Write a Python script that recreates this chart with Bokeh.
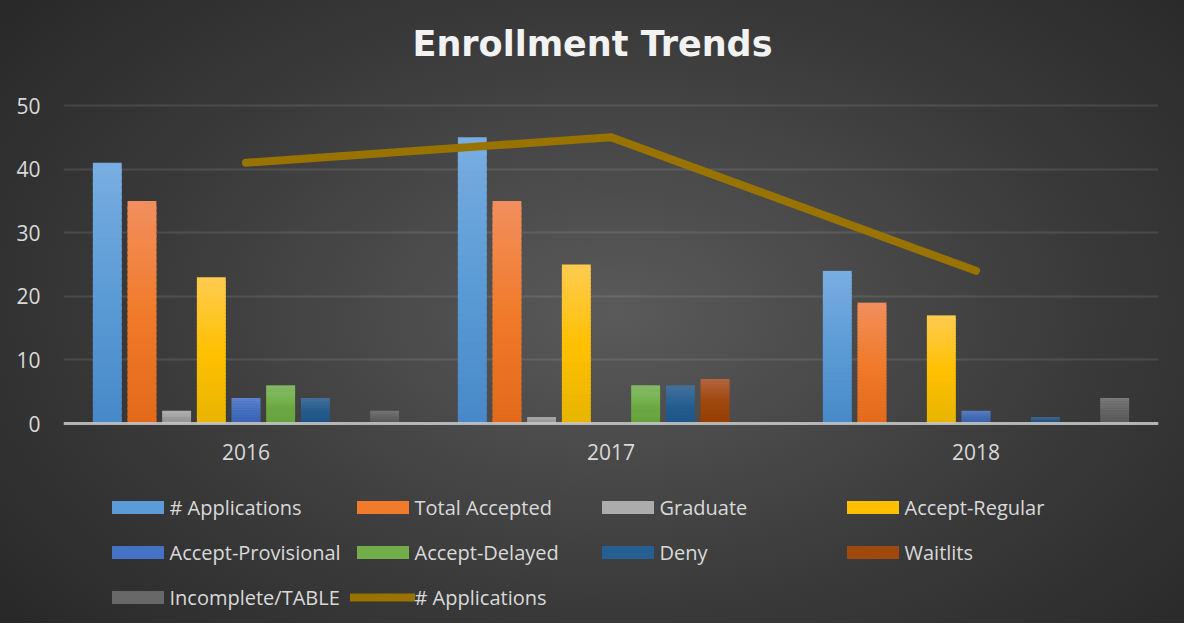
from bokeh.plotting import figure
from bokeh.models import (FactorRange, Range1d, ColumnDataSource, Legend, LegendItem,
                          FixedTicker, Span, Label)
from bokeh.core.properties import value
from bokeh.transform import dodge
from bokeh.embed import file_html
from bokeh.resources import INLINE

# ---------------- data ----------------
years = ["2016", "2017", "2018"]
series_names = ["# Applications", "Total Accepted", "Graduate", "Accept-Regular",
                "Accept-Provisional", "Accept-Delayed", "Deny", "Waitlits", "Incomplete/TABLE"]
applications = [41, 45, 24]
total_accepted = [35, 35, 19]
graduate = [2, 1, 0]
accept_regular = [23, 25, 17]
accept_provisional = [4, 0, 2]
accept_delayed = [6, 6, 0]
deny = [4, 6, 1]
waitlits = [0, 7, 0]
incomplete = [2, 0, 4]
line_label = "# Applications"
line_values = [41, 45, 24]
y_ticks = [0, 10, 20, 30, 40, 50]
title_text = "Enrollment Trends"

series_values = [applications, total_accepted, graduate, accept_regular,
                 accept_provisional, accept_delayed, deny, waitlits, incomplete]

# gradient stops (top, middle, bottom) per series
series_colors = [
    ("#78ADE1", "#5B9BD5", "#4788C8"),
    ("#F18F5C", "#F07A2A", "#E2691A"),
    ("#C0C0C0", "#ABABAB", "#9E9E9E"),
    ("#FFCB4F", "#FFC000", "#E6B400"),
    ("#5F86D3", "#4472C4", "#3A63B8"),
    ("#86BE66", "#70AD47", "#63A23A"),
    ("#44739F", "#255E91", "#1D5589"),
    ("#B4643E", "#9E480E", "#973E02"),
    ("#7C7C7C", "#676767", "#5A5A5A"),
]


def hex2rgb(h):
    h = h.lstrip("#")
    return [int(h[i:i + 2], 16) for i in (0, 2, 4)]


def mix(c1, c2, t):
    a, b = hex2rgb(c1), hex2rgb(c2)
    return "#%02x%02x%02x" % tuple(int(round(a[i] + (b[i] - a[i]) * t)) for i in range(3))


def grad(top, mid, bot, t):
    # t = 0 bottom, 1 top
    if t < 0.5:
        return mix(bot, mid, t / 0.5)
    return mix(mid, top, (t - 0.5) / 0.5)


K = 40
n = len(series_names)
step = 0.095
bar_w = 0.079

# layout: the value axis 0..50 spans 318 px; the frame fills the whole figure height
FIG_W, FIG_H = 1184, 623
LEFT, RIGHT = 63, 26
ZERO_PX = 423            # pixel row of value 0, from the top of the figure
px_per_unit = 318 / 50
y_hi = ZERO_PX / px_per_unit
y_lo = -(FIG_H - ZERO_PX) / px_per_unit

p = figure(width=FIG_W, height=FIG_H, x_range=FactorRange(factors=years, range_padding=0),
           y_range=Range1d(y_lo, y_hi), output_backend="svg", toolbar_location=None,
           min_border_left=LEFT, min_border_right=RIGHT, min_border_top=0, min_border_bottom=0)

p.styles = {"background": "radial-gradient(ellipse 72% 85% at 52% 50%, #5a5a5a 0%, #3a3a3a 55%, #252525 100%)"}
p.background_fill_alpha = 0
p.border_fill_alpha = 0
p.outline_line_color = None

items = []
for i, (name, vals, cols) in enumerate(zip(series_names, series_values, series_colors)):
    xs, bots, tops, colors = [], [], [], []
    for yr, v in zip(years, vals):
        for k in range(K):
            xs.append(yr)
            bots.append(v * max(k - 0.6, 0) / K)
            tops.append(v * (k + 1) / K)
            colors.append(grad(*cols, (k + 0.5) / K))
    src = ColumnDataSource(dict(x=xs, bottom=bots, top=tops, color=colors))
    r = p.vbar(x=dodge("x", (i - (n - 1) / 2) * step, range=p.x_range), bottom="bottom", top="top",
               width=bar_w, source=src, fill_color="color", line_color=None)
    items.append(LegendItem(label=name, renderers=[r], index=K // 2))

# category axis line at 0 and category labels
p.add_layout(Span(location=0, dimension="width", line_color="#C8C8C8", line_width=3, line_alpha=0.85))
p.text(x=years, y=[0] * len(years), text=years, text_align="center", text_baseline="middle",
       y_offset=28, text_font=value("Open Sans"), text_font_size="21px", text_color="#D9D9D9")

lr = p.line(x=years, y=line_values, line_color="#997300", line_width=8,
            line_cap="round", line_join="round")
items.append(LegendItem(label=line_label, renderers=[lr]))

# title (centred on the whole figure)
p.add_layout(Label(x=FIG_W / 2 - LEFT, y=FIG_H - 43, x_units="screen", y_units="screen",
                   text=title_text, text_align="center", text_baseline="alphabetic",
                   text_font="DejaVu Sans", text_font_style="bold", text_font_size="35px",
                   text_color="#F2F2F2"))

# axes
p.xaxis.visible = False
p.yaxis.ticker = FixedTicker(ticks=y_ticks)
p.yaxis.axis_line_color = None
p.yaxis.major_tick_line_color = None
p.yaxis.minor_tick_line_color = None
p.yaxis.major_tick_out = 0
p.yaxis.major_tick_in = 0
p.yaxis.major_label_standoff = 23
p.yaxis.major_label_text_font = "Open Sans"
p.yaxis.major_label_text_font_size = "21px"
p.yaxis.major_label_text_color = "#D9D9D9"

p.xgrid.grid_line_color = None
p.ygrid.grid_line_color = "#FFFFFF"
p.ygrid.grid_line_alpha = 0.1
p.ygrid.grid_line_width = 2

legend = Legend(items=items, orientation="horizontal", ncols=4, location=(41.5, 3.5),
                label_text_font="Open Sans", label_text_font_size="20px", label_text_color="#D9D9D9",
                glyph_width=65, glyph_height=16, label_standoff=0, label_width=180, label_height=45,
                spacing=0, padding=0, margin=0,
                background_fill_alpha=0, border_line_alpha=0)
p.add_layout(legend, "center")

open("out.html", "w").write(file_html(p, INLINE))
